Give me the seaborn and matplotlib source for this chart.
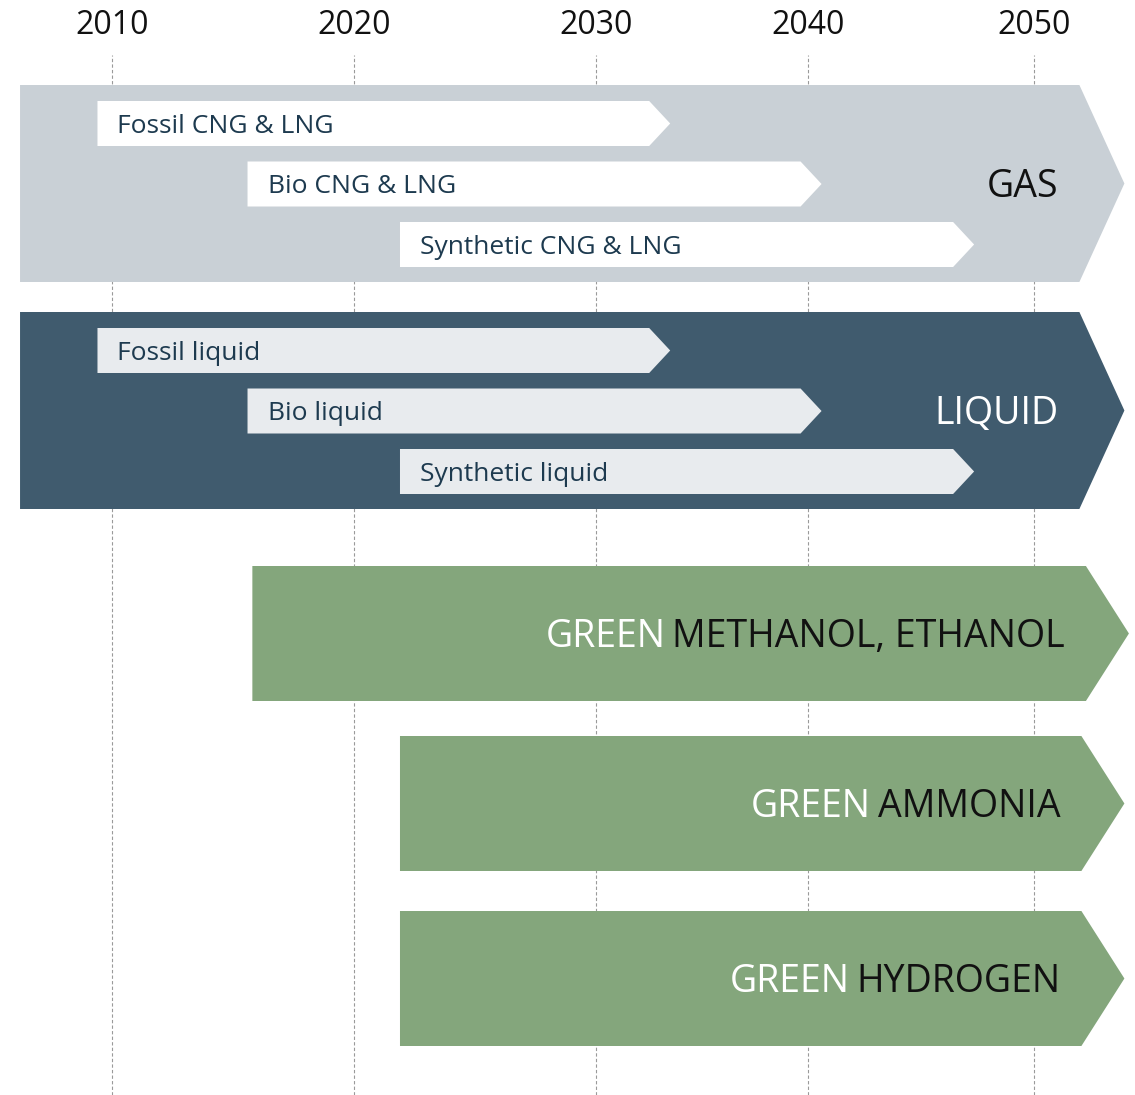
import numpy as np
import matplotlib
matplotlib.use("Agg")
import matplotlib.pyplot as plt
from matplotlib.patches import Polygon
import seaborn as sns

# decades on the top axis and where the source graphic put them (uneven spacing)
years = [2010, 2020, 2030, 2040, 2050]
year_px = [112, 354, 596, 808, 1034]

group_names = ["GAS", "LIQUID"]
group_start = 2006.2
group_end = 2054.0

gas_items = ["Fossil CNG & LNG", "Bio CNG & LNG", "Synthetic CNG & LNG"]
liquid_items = ["Fossil liquid", "Bio liquid", "Synthetic liquid"]
item_start = [2009.4, 2015.6, 2021.9]
item_end = [2033.5, 2040.6, 2047.35]

green_items = ["METHANOL, ETHANOL", "AMMONIA", "HYDROGEN"]
green_start = [2015.8, 2021.9, 2021.9]
green_end = [2054.2, 2054.0, 2054.0]

# piecewise-linear year scale so the decades land where the original has them
anchor_years = [years[0] - 10] + years + [years[-1] + 10]
anchor_px = ([year_px[0] - (year_px[1] - year_px[0])] + year_px
             + [year_px[-1] + (year_px[-1] - year_px[-2])])


def fwd(x):
    return np.interp(x, anchor_years, anchor_px)


def inv(p):
    return np.interp(p, anchor_px, anchor_years)


def shift(x, px):
    return float(inv(fwd(x) + px))


def base(yc, size):
    # baseline that puts the capitals visually centred on yc (Open Sans cap ~0.714em)
    return yc + 0.714 * size * 100 / 72 / 2


sns.set_style("white")
plt.rcParams['font.family'] = ['Open Sans', 'DejaVu Sans']

W, H = 1135, 1095
top_px = 55
fig = plt.figure(figsize=(W / 100, H / 100), dpi=100)
ax = fig.add_axes([0, 0, 1, (H - top_px) / H])
ax.set_xscale('function', functions=(fwd, inv))
ax.set_xlim(float(inv(0)), float(inv(W)))
ax.set_ylim(H, top_px)

gas_col = "#c9d0d6"
liq_col = "#405b6e"
green_col = "#84a67c"
navy = "#1d3a4f"
small, big = 19, 27


def arrow(x0, x1, top, height, tip, color):
    xb = shift(x1, -tip)
    pts = [(x0, top), (xb, top), (x1, top + height / 2),
           (xb, top + height), (x0, top + height)]
    ax.add_patch(Polygon(pts, closed=True, facecolor=color,
                         edgecolor="none", zorder=2))
    return xb


# GAS / LIQUID groups with their three sub-arrows
group_tops = [85, 312]
group_h = 197
inner_fill = ["white", "#e8ebee"]
group_txt = ["#111111", "white"]
for g, items in enumerate([gas_items, liquid_items]):
    top = group_tops[g]
    body = arrow(group_start, group_end, top, group_h, 45,
                 [gas_col, liq_col][g])
    ax.text(shift(body, -21), base(top + group_h / 2, big), group_names[g],
            ha='right', va='baseline', fontsize=big, color=group_txt[g],
            zorder=4)
    for i, name in enumerate(items):
        rt = top + 16 + 60.5 * i
        arrow(item_start[i], item_end[i], rt, 45, 21, inner_fill[g])
        ax.text(shift(item_start[i], 20), base(rt + 22.5, small), name,
                ha='left', va='baseline', fontsize=small, color=navy, zorder=4)

# green fuels
green_tops = [566, 736, 911]
green_h = 135
for i, name in enumerate(green_items):
    top = green_tops[i]
    yb = base(top + green_h / 2, big)
    body = arrow(green_start[i], green_end[i], top, green_h, 43, green_col)
    t = ax.text(shift(body, -21), yb, name, ha='right', va='baseline',
                fontsize=big, color="#111111", zorder=4)
    ax.annotate("GREEN", xy=(0, yb), xycoords=(t, 'data'),
                xytext=(-5, 0), textcoords='offset points', ha='right',
                va='baseline', fontsize=big, color="white", zorder=4)

ax.set_xticks(years)
ax.set_xticklabels([str(y) for y in years])
ax.set_yticks([])
ax.tick_params(axis='x', top=True, labeltop=True, bottom=False,
               labelbottom=False, length=0, pad=9, labelsize=23,
               labelcolor="#111111")
ax.grid(axis='x', color="#9a9a9a", linestyle=(0, (3, 2)), linewidth=0.8)
ax.set_axisbelow(True)
sns.despine(ax=ax, left=True, bottom=True, top=True, right=True)

fig.savefig("out.png", dpi=100)
